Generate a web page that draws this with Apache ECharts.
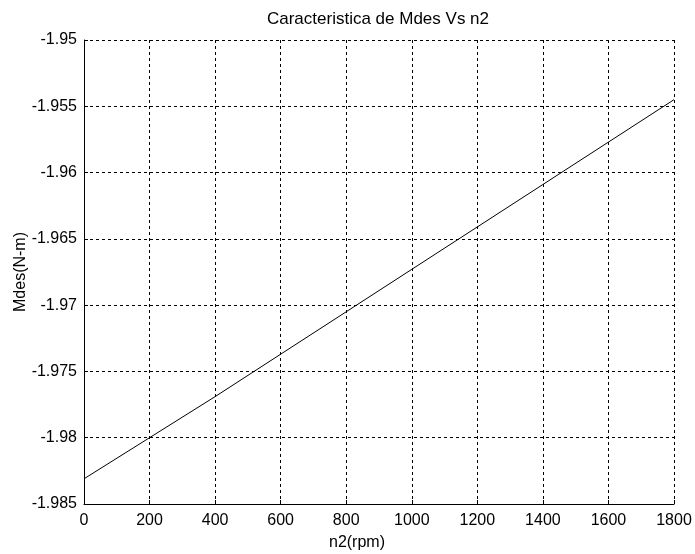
<!DOCTYPE html>
<html><head><meta charset="utf-8">
<script src="https://cdn.jsdelivr.net/npm/echarts@6/dist/echarts.min.js"></script>
<style>html,body{margin:0;padding:0;background:#fff}#c{width:695px;height:554px}</style>
</head><body><div id="c"></div>
<script>
const rpm = [0, 200, 400, 600, 800, 1000, 1200, 1400, 1600, 1800];
const mdes = [-1.9831, -1.9800, -1.9769, -1.9737, -1.9705, -1.9673, -1.9641, -1.9609, -1.9577, -1.9545];
const yTicks = [-1.985, -1.98, -1.975, -1.97, -1.965, -1.96, -1.955, -1.95];
const font = 'Liberation Sans, Arial, sans-serif';
const chart = echarts.init(document.getElementById('c'));
const dash = {show: true, lineStyle: {color: '#000', type: [3, 3], width: 1}};
chart.setOption({
  animation: false,
  backgroundColor: '#fff',
  title: {text: 'Caracteristica de Mdes Vs n2', left: 378, top: 11, padding: 0, textAlign: 'center',
    textStyle: {fontFamily: font, fontSize: 17, fontWeight: 'normal', color: '#000'}},
  grid: {left: 84, right: 21, top: 40, bottom: 50, containLabel: false, outerBoundsMode: 'none'},
  xAxis: {type: 'value', min: 0, max: 1800, interval: 200, name: 'n2(rpm)', nameLocation: 'middle', nameGap: 31,
    nameMoveOverlap: false,
    nameTextStyle: {fontFamily: font, fontSize: 16, color: '#000', padding: [0, 44, 0, 0]},
    axisLine: {show: true, onZero: false, lineStyle: {color: '#000', width: 1}},
    axisTick: {show: true, inside: true, length: 4, lineStyle: {color: '#000'}},
    axisLabel: {fontFamily: font, fontSize: 16, color: '#000', margin: 9, formatter: v => String(v)},
    splitLine: dash},
  yAxis: {type: 'value', min: -1.985, max: -1.95, interval: 0.005, name: 'Mdes(N-m)', nameLocation: 'middle', nameGap: 55,
    nameMoveOverlap: false,
    nameTextStyle: {fontFamily: font, fontSize: 16, color: '#000'},
    axisLine: {show: true, lineStyle: {color: '#000', width: 1}},
    axisTick: {show: true, inside: true, length: 4, lineStyle: {color: '#000'}},
    axisLabel: {fontFamily: font, fontSize: 16, color: '#000', margin: 7,
      formatter: v => yTicks.map(t => String(t)).find(s => Math.abs(parseFloat(s) - v) < 1e-9) || String(v)},
    splitLine: dash},
  series: [{type: 'line', data: rpm.map((x, i) => [x, mdes[i]]), showSymbol: false,
    lineStyle: {color: '#000', width: 1}}]
});
</script></body></html>
